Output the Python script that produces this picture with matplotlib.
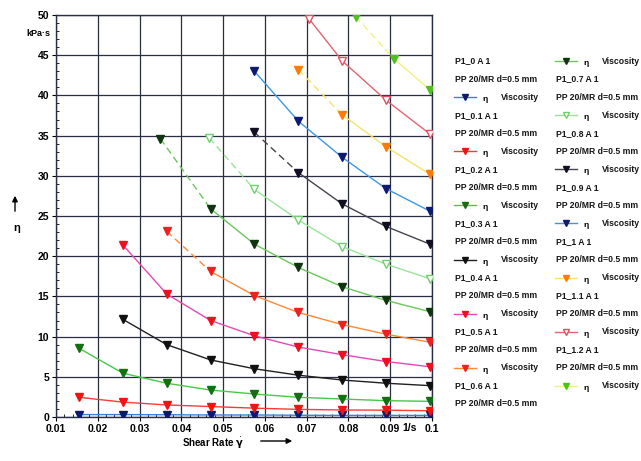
import numpy as np
import matplotlib
matplotlib.use("Agg")
import matplotlib.pyplot as plt
from matplotlib.lines import Line2D

plt.rcParams['font.family'] = ['Liberation Sans', 'DejaVu Sans']

# Data: shear rate [1/s] and viscosity [kPa.s]
names = ["P1_0 A 1", "P1_0.1 A 1", "P1_0.2 A 1", "P1_0.3 A 1", "P1_0.4 A 1",
         "P1_0.5 A 1", "P1_0.6 A 1", "P1_0.7 A 1", "P1_0.8 A 1", "P1_0.9 A 1",
         "P1_1 A 1", "P1_1.1 A 1", "P1_1.2 A 1"]
geometry = "PP 20/MR d=0.5 mm"

rate_all = [0.0155, 0.026, 0.0365, 0.047, 0.0575, 0.068, 0.0785, 0.089, 0.0995]

x_p0 = rate_all
y_p0 = [0.3, 0.3, 0.28, 0.25, 0.25, 0.22, 0.2, 0.2, 0.2]
x_p01 = rate_all
y_p01 = [2.45, 1.85, 1.5, 1.3, 1.1, 0.95, 0.87, 0.85, 0.78]
x_p02 = rate_all
y_p02 = [8.55, 5.45, 4.2, 3.35, 2.86, 2.45, 2.24, 2.03, 1.95]
x_p03 = rate_all[1:]
y_p03 = [12.15, 9.0, 7.1, 6.0, 5.2, 4.6, 4.2, 3.9]
x_p04 = rate_all[1:]
y_p04 = [21.4, 15.3, 12.0, 10.1, 8.7, 7.75, 6.9, 6.25]
x_p05 = rate_all[2:]
y_p05 = [23.1, 18.1, 15.1, 13.0, 11.5, 10.3, 9.3]
x_p06 = [0.035, 0.047, 0.0575, 0.068, 0.0785, 0.089, 0.0995]
y_p06 = [34.6, 25.9, 21.5, 18.6, 16.2, 14.5, 13.1]
x_p07 = [0.0467, 0.0575, 0.068, 0.0785, 0.089, 0.0995]
y_p07 = [34.7, 28.3, 24.5, 21.2, 19.0, 17.2]
x_p08 = rate_all[4:]
y_p08 = [35.4, 30.4, 26.5, 23.7, 21.5]
x_p09 = rate_all[4:]
y_p09 = [43.0, 36.8, 32.3, 28.4, 25.6]
x_p10 = rate_all[5:]
y_p10 = [43.2, 37.6, 33.6, 30.2]
x_p11 = [0.0706, 0.0785, 0.089, 0.0995]
y_p11 = [49.5, 44.3, 39.4, 35.2]
x_p12 = [0.0817, 0.091, 0.0995]
y_p12 = [49.8, 44.5, 40.7]

xs = [x_p0, x_p01, x_p02, x_p03, x_p04, x_p05, x_p06, x_p07, x_p08, x_p09, x_p10, x_p11, x_p12]
ys = [y_p0, y_p01, y_p02, y_p03, y_p04, y_p05, y_p06, y_p07, y_p08, y_p09, y_p10, y_p11, y_p12]

# (line colour, marker colour, open marker, first segment dashed)
styles = [
    ('#3a80d8', '#0c1a6c', False, False),
    ('#ff3a3a', '#ee1414', False, False),
    ('#48c848', '#127012', False, False),
    ('#202020', '#101010', False, False),
    ('#e448b4', '#ee1020', False, False),
    ('#ff8838', '#ee2020', False, True),
    ('#68c858', '#103410', False, True),
    ('#98e498', '#70d070', True, True),
    ('#44444e', '#101020', False, True),
    ('#3c98e4', '#0c1a70', False, False),
    ('#f2e468', '#ff7a00', False, True),
    ('#e46470', '#e05060', True, False),
    ('#f2f080', '#50c020', False, True),
]

fig = plt.figure(figsize=(6.41, 4.61), dpi=100)
ax = fig.add_axes([56 / 641, 1 - 417 / 461, 376 / 641, 402 / 461])

for x, y, (lc, mc, hollow, dash_first) in zip(xs, ys, styles):
    if dash_first:
        ax.plot(x[:2], y[:2], color=lc, lw=1.0, ls=(0, (5, 3)), zorder=3)
        ax.plot(x[1:], y[1:], color=lc, lw=1.0, zorder=3)
    else:
        ax.plot(x, y, color=lc, lw=1.0, zorder=3)
    ax.plot(x, y, ls='none', marker='v', markersize=5.5,
            markerfacecolor='white' if hollow else mc, markeredgecolor=mc,
            markeredgewidth=1.0, zorder=4)

ax.set_xlim(0.01, 0.1)
ax.set_ylim(0, 50)
ax.set_xticks(np.arange(0.01, 0.1001, 0.01))
ax.set_xticklabels(['0.01', '0.02', '0.03', '0.04', '0.05', '0.06', '0.07', '0.08', '0.09', '0.1'])
ax.set_yticks(np.arange(0, 51, 5))
ax.set_yticks(np.arange(0, 51, 1), minor=True)
ax.set_xticks(np.arange(0.01, 0.1001, 0.002), minor=True)
ax.tick_params(which='major', direction='out', length=3, width=0.8, labelsize=7.5, pad=2)
ax.tick_params(which='minor', direction='in', length=2, width=0.6)
for lab in ax.get_xticklabels() + ax.get_yticklabels():
    lab.set_fontweight('bold')
ax.grid(which='major', color='#2a2e44', lw=0.9)
for sp in ax.spines.values():
    sp.set_color('#2a2e44')
    sp.set_linewidth(1.0)

# axis annotations
fig.text(50 / 641, 1 - 34 / 461, 'kPa·s', fontsize=6.5, fontweight='bold', ha='right', va='center')
fig.text(410 / 641, 1 - 428 / 461, '1/s', fontsize=7.5, fontweight='bold', ha='center', va='center')
fig.text(213 / 641, 1 - 443 / 461, r'Shear Rate $\dot{\mathbf{\gamma}}$', fontsize=7, fontweight='bold',
         ha='center', va='center')
fig.text(17 / 641, 1 - 228 / 461, 'η', fontsize=8, fontweight='bold', ha='center', va='center')
fig.add_artist(plt.Annotation('', xy=(295 / 641, 1 - 441 / 461), xytext=(258 / 641, 1 - 441 / 461),
                              xycoords='figure fraction',
                              arrowprops=dict(arrowstyle='-|>', color='black', lw=1.0, mutation_scale=8)))
fig.add_artist(plt.Annotation('', xy=(15 / 641, 1 - 193 / 461), xytext=(15 / 641, 1 - 214 / 461),
                              xycoords='figure fraction',
                              arrowprops=dict(arrowstyle='-|>', color='black', lw=1.0, mutation_scale=8)))

# legend drawn in pixel coordinates
lg = fig.add_axes([0, 0, 1, 1], zorder=-1)
lg.set_xlim(0, 641)
lg.set_ylim(461, 0)
lg.axis('off')

rows = []
for name, st in zip(names, styles):
    rows.append(('text', name))
    rows.append(('text', geometry))
    rows.append(('mark', st))

col_x = [455, 556]
row_step = 18.05
for i, (kind, item) in enumerate(rows):
    col = 0 if i < 20 else 1
    r = i if i < 20 else i - 20
    y0 = 61 + r * row_step
    x0 = col_x[col]
    if kind == 'text':
        lg.text(x0, y0, item, fontsize=6.2, fontweight='bold', ha='left', va='center', color='#151515')
    else:
        lc, mc, hollow, dash_first = item
        lg.add_line(Line2D([x0 - 1, x0 + 21], [y0, y0], color=lc, lw=1.0))
        lg.add_line(Line2D([x0 + 10], [y0], ls='none', marker='v', markersize=4.5,
                           markerfacecolor='white' if hollow else mc, markeredgecolor=mc))
        lg.text(x0 + 28, y0 + 2.5, 'η', fontsize=6, fontweight='bold', ha='left', va='center')
        lg.text(x0 + 46, y0, 'Viscosity', fontsize=6.2, fontweight='bold', ha='left', va='center',
                color='#151515')

fig.savefig('out.png', dpi=100)
